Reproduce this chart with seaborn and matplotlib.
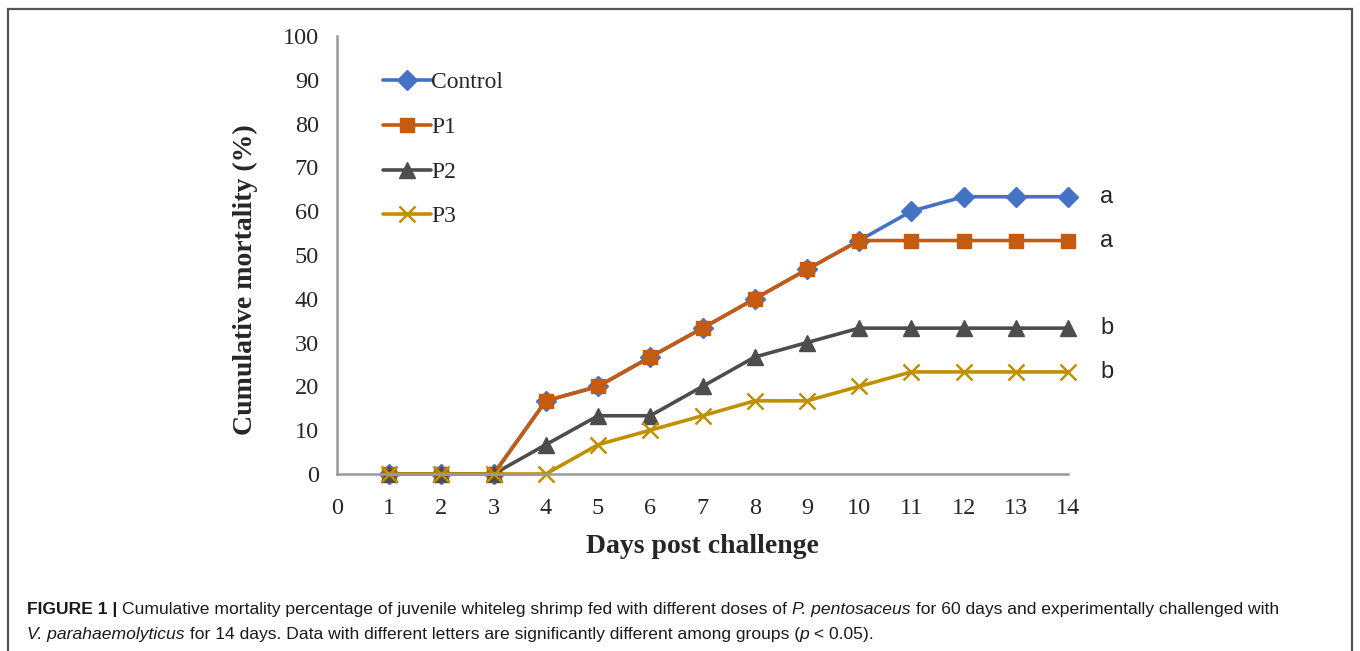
import numpy as np
import pandas as pd
import matplotlib
matplotlib.use("Agg")
import matplotlib.pyplot as plt
import seaborn as sns
from matplotlib.patches import Rectangle

days = list(range(1, 15))
control = [0, 0, 0, 16.7, 20.0, 26.7, 33.3, 40.0, 46.7, 53.3, 60.0, 63.3, 63.3, 63.3]
p1 = [0, 0, 0, 16.7, 20.0, 26.7, 33.3, 40.0, 46.7, 53.3, 53.3, 53.3, 53.3, 53.3]
p2 = [0, 0, 0, 6.7, 13.3, 13.3, 20.0, 26.7, 30.0, 33.3, 33.3, 33.3, 33.3, 33.3]
p3 = [0, 0, 0, 0, 6.7, 10.0, 13.3, 16.7, 16.7, 20.0, 23.3, 23.3, 23.3, 23.3]
groups = ["Control", "P1", "P2", "P3"]
letters = ["a", "a", "b", "b"]

df = pd.DataFrame({
    "day": days * 4,
    "mortality": control + p1 + p2 + p3,
    "group": np.repeat(groups, len(days)),
})

palette = {"Control": "#4472C4", "P1": "#C55A11", "P2": "#4D4D4D", "P3": "#BF9000"}
markers = {"Control": "D", "P1": "s", "P2": "^", "P3": "x"}
msizes = {"Control": 10.5, "P1": 10.5, "P2": 11.5, "P3": 12}

sns.set_style("white")
plt.rcParams["font.family"] = ["Liberation Serif", "DejaVu Serif"]

fig = plt.figure(figsize=(13.6, 6.51), dpi=100)
ax = fig.add_axes([0.2478, 0.2719, 0.5375, 0.6728])

for g in groups:
    sub = df[df.group == g]
    sns.lineplot(data=sub, x="day", y="mortality", color=palette[g], marker=markers[g],
                 markersize=msizes[g], markeredgewidth=1.8 if g == "P3" else 1.0,
                 markeredgecolor=palette[g], linewidth=2.6, label=g, ax=ax, clip_on=False)

ax.set_xlim(0, 14)
ax.set_ylim(0, 100)
ax.set_xticks(range(0, 15))
ax.set_yticks(range(0, 101, 10))
ax.tick_params(axis="both", length=0, labelsize=17.5)
ax.tick_params(axis="y", pad=13)
ax.tick_params(axis="x", pad=17)
sns.despine(ax=ax)
for side in ["left", "bottom"]:
    ax.spines[side].set_color("#9a9a9a")
    ax.spines[side].set_linewidth(1.8)

ax.set_xlabel("Days post challenge", fontsize=20, fontweight="bold", labelpad=11)
ax.set_ylabel("Cumulative mortality (%)", fontsize=20, fontweight="bold")
ax.yaxis.set_label_coords(-0.108, 0.443)

for g, letter in zip(groups, letters):
    last = df[df.group == g].mortality.iloc[-1]
    ax.text(14.62, last, letter, fontsize=17, family="Liberation Sans",
            va="center", ha="left", clip_on=False)

handles, labels = ax.get_legend_handles_labels()
ax.legend(handles, labels, loc="upper left", bbox_to_anchor=(0.063, 0.918),
          frameon=False, fontsize=17, handlelength=2.05, handletextpad=0.0,
          labelspacing=0.98, borderaxespad=0, borderpad=0)

fig.add_artist(Rectangle((0.006, -0.01), 0.988, 0.996, transform=fig.transFigure,
                         fill=False, edgecolor="#555555", linewidth=1.6))

# caption: segments chained left to right, (text, weight, style)
caption_lines = [
    [("FIGURE 1 | ", "bold", "normal"),
     ("Cumulative mortality percentage of juvenile whiteleg shrimp fed with different doses of ", "normal", "normal"),
     ("P. pentosaceus", "normal", "italic"),
     (" for 60 days and experimentally challenged with", "normal", "normal")],
    [("V. parahaemolyticus", "normal", "italic"),
     (" for 14 days. Data with different letters are significantly different among groups (", "normal", "normal"),
     ("p", "normal", "italic"),
     (" < 0.05).", "normal", "normal")],
]
line_y = [0.0645, 0.026]
for segs, y in zip(caption_lines, line_y):
    prev = None
    for txt, weight, style in segs:
        kw = dict(fontsize=12.6, family="Liberation Sans", color="#1a1a1a",
                  fontweight=weight, fontstyle=style, va="center", ha="left")
        if prev is None:
            prev = fig.text(0.0199, y, txt, **kw)
        else:
            prev = fig.add_artist(plt.Annotation(txt, xy=(1, 0.5), xycoords=prev, **kw))

fig.savefig("out.png", dpi=100)
